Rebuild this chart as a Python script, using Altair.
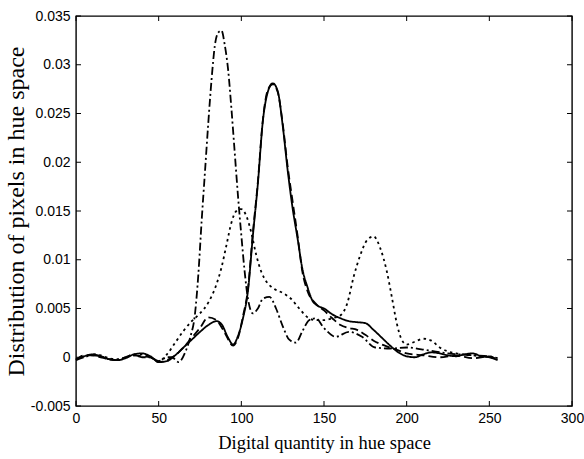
import altair as alt
import pandas as pd

# ---- data ----
solid_x = [0, 5, 10, 15, 20, 25, 30, 35, 40, 45,
           50, 55, 60, 65, 70, 75, 80, 85, 88, 92,
           95, 98, 101, 104, 107, 110, 113, 116, 119, 122,
           125, 128, 131, 134, 137, 140, 143, 146, 150, 155,
           160, 165, 170, 175, 180, 185, 190, 195, 200, 205,
           210, 215, 220, 225, 230, 235, 240, 245, 250, 255]
solid_y = [-0.0002, 0.0001, 0.0003, 0.0001, -0.0002, -0.0003, -0.0001, 0.0003, 0.0004, 0.0001,
           -0.0005, -0.0004, 0.0002, 0.001, 0.0018, 0.0026, 0.0033, 0.0037, 0.0034, 0.002,
           0.0013, 0.0022, 0.004, 0.0068, 0.0125, 0.0178, 0.0242, 0.0272, 0.0281, 0.0273,
           0.0238, 0.0192, 0.0153, 0.0122, 0.009, 0.0072, 0.0058, 0.0053, 0.005, 0.0044,
           0.004, 0.0037, 0.0036, 0.0035, 0.0028, 0.002, 0.0012, 0.0005, 0.0001, 0.0,
           0.0003, 0.0005, 0.0004, 0.0002, 0.0001, 0.0003, 0.0004, 0.0001, 0.0, -0.0003]

dashed_x = [0, 5, 10, 15, 20, 25, 30, 35, 40, 45,
            50, 55, 60, 65, 70, 75, 80, 85, 90, 95,
            98, 101, 104, 107, 110, 113, 116, 119, 122, 125,
            128, 131, 134, 137, 140, 145, 150, 155, 160, 165,
            170, 175, 180, 185, 190, 195, 200, 210, 220, 230,
            240, 250, 255]
dashed_y = [-0.0003, 0.0002, 0.0002, 0.0, -0.0002, -0.0003, 0.0, 0.0002, 0.0001, 0.0,
            -0.0005, -0.0003, 0.0002, 0.001, 0.002, 0.003, 0.0041, 0.0038, 0.0025, 0.0012,
            0.002, 0.0042, 0.007, 0.0128, 0.018, 0.0243, 0.0274, 0.028, 0.0272, 0.024,
            0.0196, 0.016, 0.0125, 0.0087, 0.0068, 0.0055, 0.0048, 0.004, 0.0033, 0.003,
            0.0028, 0.0023, 0.0017, 0.0013, 0.001, 0.0007, 0.0004, 0.0002, 0.0, 0.0002,
            -0.0001, 0.0001, -0.0003]

dotted_x = [0, 5, 10, 15, 20, 25, 30, 35, 40, 45,
            50, 55, 60, 65, 70, 75, 80, 85, 88, 91,
            94, 97, 100, 103, 106, 109, 112, 115, 120, 125,
            130, 135, 140, 145, 150, 155, 160, 164, 168, 172,
            176, 180, 184, 188, 191, 194, 197, 200, 205, 210,
            215, 220, 225, 230, 240, 250, 255]
dotted_y = [-0.0002, 0.0001, 0.0003, 0.0002, -0.0001, -0.0002, 0.0, 0.0003, 0.0003, 0.0,
            -0.0004, 0.0003, 0.0015, 0.0027, 0.0037, 0.0045, 0.0056, 0.0075, 0.0092, 0.0115,
            0.0138, 0.015, 0.0152, 0.0145, 0.0128, 0.0105, 0.0088, 0.0078, 0.007, 0.0066,
            0.006, 0.005, 0.0041, 0.0038, 0.0038, 0.004, 0.0043, 0.0055, 0.0083, 0.0105,
            0.012, 0.0124, 0.0112, 0.0088, 0.0062, 0.0035, 0.0018, 0.0013, 0.0016, 0.0019,
            0.0017, 0.001, 0.0006, 0.0004, 0.0002, 0.0, -0.0002]

dashdot_x = [0, 5, 10, 15, 20, 25, 30, 35, 40, 45,
             50, 55, 58, 62, 66, 69, 72, 74, 76, 78,
             80, 82, 84, 86, 88, 90, 92, 94, 96, 98,
             100, 102, 104, 107, 110, 113, 117, 121, 125, 129,
             133, 137, 141, 145, 150, 157, 165, 173, 181, 190,
             200, 213, 225, 240, 250, 255]
dashdot_y = [-0.0003, 0.0, 0.0002, 0.0001, -0.0002, -0.0003, 0.0, 0.0002, 0.0, 0.0,
             -0.0004, 0.0, 0.0, -0.0005, 0.0005, 0.002, 0.0045, 0.0085, 0.014, 0.019,
             0.024, 0.0285, 0.032, 0.0333, 0.0335, 0.032, 0.0295, 0.0255, 0.021, 0.0165,
             0.0125, 0.0088, 0.006, 0.0045, 0.005, 0.006, 0.0062, 0.005, 0.0032, 0.0018,
             0.0015, 0.0027, 0.0038, 0.004, 0.003, 0.0021, 0.0026, 0.0021, 0.001, 0.0009,
             0.001, 0.0007, 0.0004, 0.0002, 0.0001, -0.0001]

series_names = ["solid", "dashed", "dotted", "dashdot"]
x_ticks = [0, 50, 100, 150, 200, 250, 300]
y_ticks = [-0.005, 0.0, 0.005, 0.01, 0.015, 0.02, 0.025, 0.03, 0.035]

x_title = "Digital quantity in hue space"
y_title = "Distribution of pixels in hue space"

# ---- build tables ----
rows = []
for name, xs, ys in zip(series_names,
                        [solid_x, dashed_x, dotted_x, dashdot_x],
                        [solid_y, dashed_y, dotted_y, dashdot_y]):
    for i, (a, b) in enumerate(zip(xs, ys)):
        rows.append({"series": name, "x": a, "y": b, "order": i})
df = pd.DataFrame(rows)
xt = pd.DataFrame({"x": x_ticks})
yt = pd.DataFrame({"y": y_ticks})

W, H = 496, 390
LABEL_FONT = "Liberation Sans Narrow, Liberation Sans, Arial"
TITLE_FONT = "Liberation Serif, Times New Roman, serif"

xscale = alt.Scale(domain=[0, 300], nice=False, zero=False)
yscale = alt.Scale(domain=[-0.005, 0.035], nice=False, zero=False)

xaxis = alt.Axis(values=x_ticks, ticks=False, domain=False, grid=False,
                 labelPadding=5, titlePadding=8, labelFlush=False,
                 titleFontSize=18.5, title=x_title)
yaxis = alt.Axis(values=y_ticks, ticks=False, domain=False, grid=False,
                 labelPadding=6, titlePadding=2, labelFlush=False,
                 titleFontSize=24,
                 labelExpr="replace(format(datum.value, '~g'), '\u2212', '-')",
                 title=y_title)

lines = alt.Chart(df).mark_line(strokeWidth=1.8, color="black",
                                interpolate="monotone").encode(
    x=alt.X("x:Q", scale=xscale, axis=xaxis),
    y=alt.Y("y:Q", scale=yscale, axis=yaxis),
    detail="series:N",
    order="order:Q",
    strokeDash=alt.StrokeDash("series:N",
                              scale=alt.Scale(domain=series_names,
                                              range=[[1, 0], [8, 4], [2.5, 3.5], [8, 3, 2, 3]]),
                              legend=None),
)

tick_len = 5
xt_bottom = alt.Chart(xt).mark_rule(color="black", strokeWidth=1).encode(
    x=alt.X("x:Q", scale=xscale, axis=xaxis),
    y=alt.value(H), y2=alt.value(H - tick_len))
xt_top = alt.Chart(xt).mark_rule(color="black", strokeWidth=1).encode(
    x=alt.X("x:Q", scale=xscale, axis=xaxis),
    y=alt.value(0), y2=alt.value(tick_len))
yt_left = alt.Chart(yt).mark_rule(color="black", strokeWidth=1).encode(
    y=alt.Y("y:Q", scale=yscale, axis=yaxis),
    x=alt.value(0), x2=alt.value(tick_len))
yt_right = alt.Chart(yt).mark_rule(color="black", strokeWidth=1).encode(
    y=alt.Y("y:Q", scale=yscale, axis=yaxis),
    x=alt.value(W), x2=alt.value(W - tick_len))

chart = alt.layer(lines, xt_bottom, xt_top, yt_left, yt_right).properties(
    width=W, height=H,
    autosize=alt.AutoSizeParams(type="none"),
    padding={"left": 76, "top": 16, "right": 12, "bottom": 53},
    background="white",
).configure_view(
    stroke="black", strokeWidth=1.4
).configure_axis(
    labelFont=LABEL_FONT, labelFontSize=14, labelColor="black",
    titleFont=TITLE_FONT, titleFontWeight="normal",
    titleColor="black",
)

chart.save("out.html", embed_options={"renderer": "svg", "actions": False})
